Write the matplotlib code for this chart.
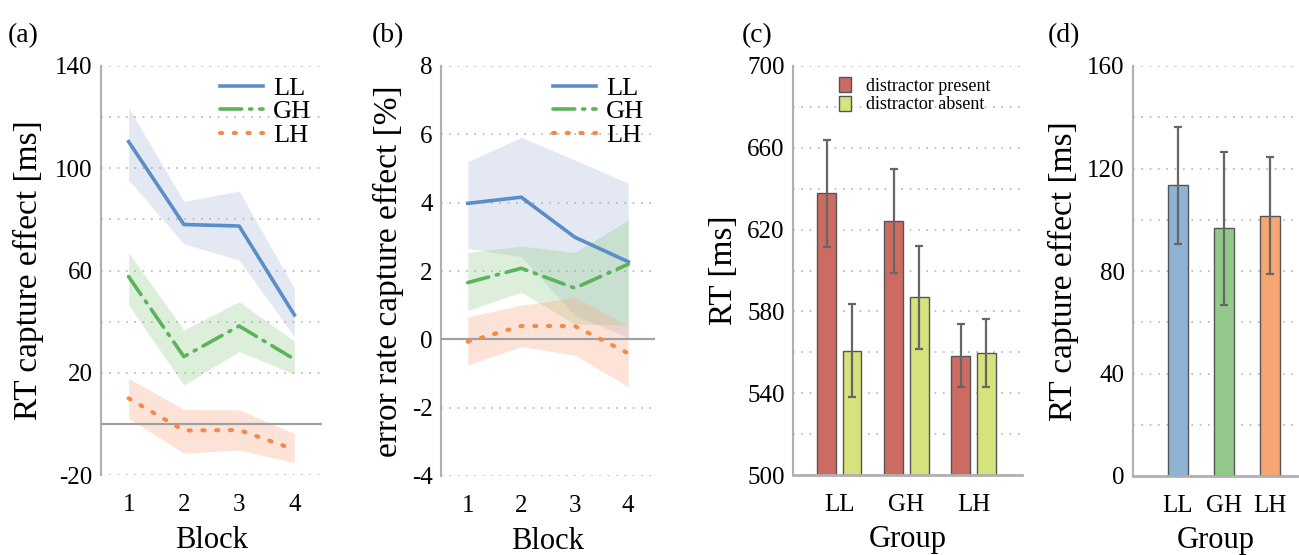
import matplotlib.pyplot as plt
from matplotlib.ticker import FixedLocator

plt.rcParams['font.family'] = ['Liberation Serif', 'DejaVu Serif']
plt.rcParams['axes.unicode_minus'] = False

blocks = [1, 2, 3, 4]
groups = ['LL', 'GH', 'LH']

# (a) RT capture effect per block: mean, upper, lower
rt_mean = {'LL': [110.4, 78.0, 77.4, 42.6],
           'GH': [57.6, 26.3, 38.3, 25.3],
           'LH': [10.0, -2.6, -2.4, -10.0]}
rt_hi = {'LL': [123.7, 87.0, 91.1, 53.0],
         'GH': [67.0, 36.7, 47.8, 32.4],
         'LH': [17.8, 5.7, 5.5, -3.8]}
rt_lo = {'LL': [95.4, 70.4, 64.1, 34.1],
         'GH': [46.5, 15.2, 28.3, 19.4],
         'LH': [2.2, -11.5, -10.2, -15.2]}

# (b) error rate capture effect per block
er_mean = {'LL': [3.98, 4.16, 2.99, 2.27],
           'GH': [1.66, 2.08, 1.50, 2.20],
           'LH': [-0.07, 0.39, 0.39, -0.41]}
er_hi = {'LL': [5.20, 5.91, 5.25, 4.57],
         'GH': [2.54, 2.73, 2.54, 3.49],
         'LH': [0.66, 1.00, 1.23, 0.40]}
er_lo = {'LL': [2.66, 2.42, 0.70, 0.05],
         'GH': [0.84, 1.38, 0.45, 0.42],
         'LH': [-0.75, -0.21, -0.46, -1.39]}

# (c) RT by group
rt_present = [637.7, 624.2, 558.2]
rt_present_err = [26.2, 25.6, 15.4]
rt_absent = [560.8, 586.9, 559.5]
rt_absent_err = [22.8, 25.3, 16.7]

# (d) RT capture effect by group
cap_mean = [113.4, 96.6, 101.6]
cap_err = [22.7, 30.0, 22.8]

# tick labels / grid lines
a_ticks = [-20, 20, 60, 100, 140]
a_grid = [-20, 0, 20, 40, 60, 80, 100, 120, 140]
b_ticks = [-4, -2, 0, 2, 4, 6, 8]
c_ticks = [500, 540, 580, 620, 660, 700]
c_grid = [500, 520, 540, 560, 580, 600, 620, 640, 660, 680, 700]
d_ticks = [0, 40, 80, 120, 160]
d_grid = [0, 20, 40, 60, 80, 100, 120, 140, 160]

line_col = {'LL': '#5b8ec8', 'GH': '#5bb45a', 'LH': '#f28a4a'}
band_col = {'LL': '#93a6cc', 'GH': '#86c87a', 'LH': '#fba47c'}
band_alpha = {'LL': 0.25, 'GH': 0.28, 'LH': 0.3}
styles = {'LL': '-', 'GH': (0, (6, 2.2, 0.6, 2.2)), 'LH': (0, (0.5, 2.8))}
widths = {'LL': 2.6, 'GH': 2.6, 'LH': 3.0}

W, H = 1299, 555
fig = plt.figure(figsize=(W / 100, H / 100), dpi=100)


def box(l, r, t, b):
    return [l / W, 1 - b / H, (r - l) / W, (b - t) / H]


def style_axes(ax, major, grid):
    ax.yaxis.set_major_locator(FixedLocator(major))
    ax.yaxis.set_minor_locator(FixedLocator([g for g in grid if g not in major]))
    ax.grid(True, which='both', axis='y', linestyle=(0, (1, 4)),
            color='#b5b5b5', linewidth=1.2)
    ax.set_axisbelow(True)
    for s in ['top', 'right', 'bottom']:
        ax.spines[s].set_visible(False)
    ax.spines['left'].set_color('#b0b0b0')
    ax.spines['left'].set_linewidth(1.5)
    ax.tick_params(which='both', length=0, labelsize=18, pad=6)
    ax.tick_params(axis='x', pad=14)


def line_panel(ax, mean, hi, lo):
    for g in groups:
        ax.fill_between(blocks, lo[g], hi[g], color=band_col[g],
                        alpha=band_alpha[g], linewidth=0)
    ax.axhline(0, color='#a0a0a0', linewidth=1.6, zorder=3)
    for g in groups:
        ax.plot(blocks, mean[g], color=line_col[g], linestyle=styles[g],
                linewidth=widths[g], dash_capstyle='round', label=g, zorder=4)
    ax.set_xlim(0.5, 4.5)
    ax.set_xticks(blocks)
    ax.set_xlabel('Block', fontsize=22, labelpad=7)
    ax.legend(loc='upper right', frameon=False, fontsize=19,
              handlelength=1.6, labelspacing=0.0, borderaxespad=0.0,
              handletextpad=0.4, bbox_to_anchor=(1.0, 1.0))


# (a)
ax1 = fig.add_axes(box(101, 322, 66, 475))
style_axes(ax1, a_ticks, a_grid)
line_panel(ax1, rt_mean, rt_hi, rt_lo)
ax1.set_ylim(-20, 140)
ax1.set_ylabel('RT capture effect [ms]', fontsize=24, labelpad=8)

# (b)
ax2 = fig.add_axes(box(441, 655, 66, 476))
style_axes(ax2, b_ticks, b_ticks)
line_panel(ax2, er_mean, er_hi, er_lo)
ax2.set_ylim(-4, 8)
ax2.set_ylabel('error rate capture effect [%]', fontsize=24, labelpad=6)

# (c)
ax3 = fig.add_axes(box(793, 1022, 66, 475))
style_axes(ax3, c_ticks, c_grid)
ax3.spines['bottom'].set_visible(True)
ax3.spines['bottom'].set_color('#b0b0b0')
ax3.spines['bottom'].set_linewidth(2)
x = list(range(len(groups)))
off = 0.19
bw = 0.28
err_kw = dict(ecolor='#666666', elinewidth=1.6, capsize=3, capthick=1.6)
ax3.bar([i - off for i in x], [v - 500 for v in rt_present], bw, bottom=500,
        yerr=rt_present_err, color='#cc6b62', edgecolor='#555555',
        linewidth=1, error_kw=err_kw, label='distractor present')
ax3.bar([i + off for i in x], [v - 500 for v in rt_absent], bw, bottom=500,
        yerr=rt_absent_err, color='#d6e27c', edgecolor='#555555',
        linewidth=1, error_kw=err_kw, label='distractor absent')
ax3.set_xlim(-0.69, 2.72)
ax3.set_ylim(500, 700)
ax3.set_xticks(x)
ax3.set_xticklabels(groups)
ax3.set_xlabel('Group', fontsize=22, labelpad=6)
ax3.set_ylabel('RT [ms]', fontsize=24, labelpad=6)
ax3.legend(loc='upper left', frameon=False, fontsize=13,
           bbox_to_anchor=(0.16, 0.995), handlelength=0.7, handleheight=0.9,
           labelspacing=0.05, handletextpad=0.8, borderaxespad=0.1)

# (d)
ax4 = fig.add_axes(box(1133, 1299, 66, 476))
style_axes(ax4, d_ticks, d_grid)
ax4.spines['bottom'].set_visible(True)
ax4.spines['bottom'].set_color('#b0b0b0')
ax4.spines['bottom'].set_linewidth(2)
ax4.bar(x, cap_mean, 0.44, yerr=cap_err,
        color=['#8fb3d4', '#92c98b', '#f5a673'], edgecolor='#555555',
        linewidth=1, error_kw=err_kw)
ax4.set_xlim(-0.98, 2.64)
ax4.set_ylim(0, 160)
ax4.set_xticks(x)
ax4.set_xticklabels(groups)
ax4.set_xlabel('Group', fontsize=22, labelpad=6)
ax4.set_ylabel('RT capture effect [ms]', fontsize=24, labelpad=6)

for lab, px in zip(['(a)', '(b)', '(c)', '(d)'], [8, 372, 742, 1048]):
    fig.text(px / W, 1 - 42 / H, lab, fontsize=20)

fig.savefig('out.png', dpi=100)
